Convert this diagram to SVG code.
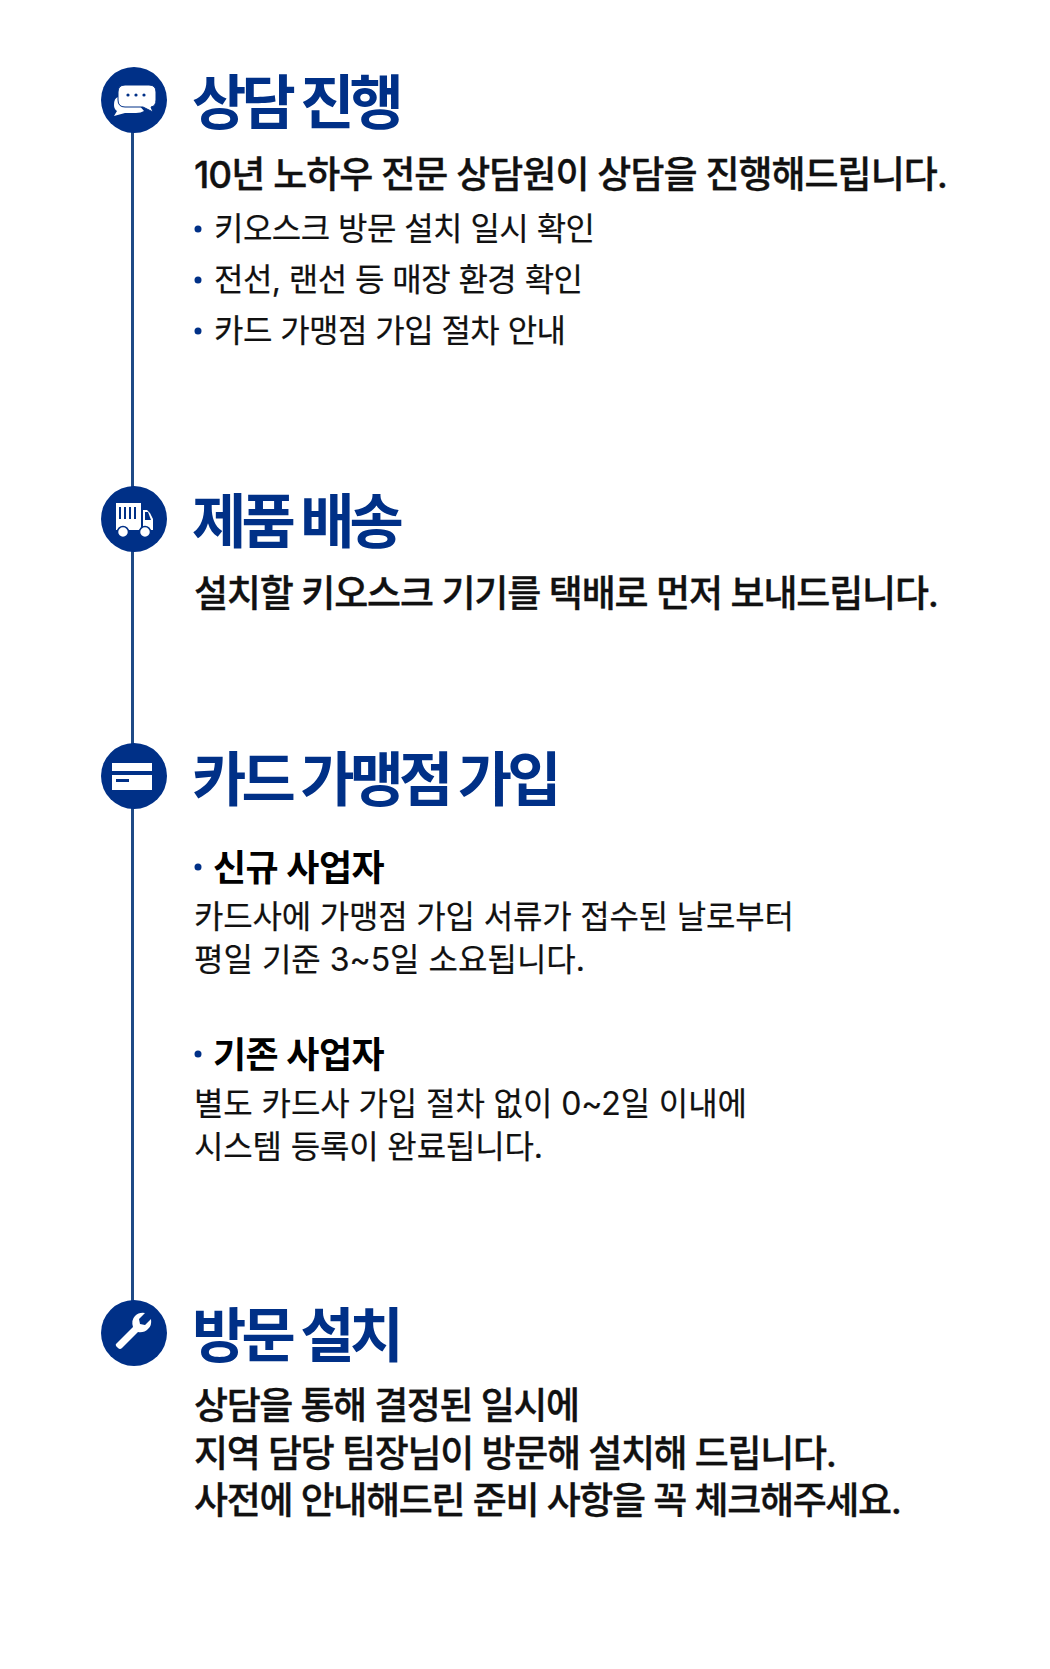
<svg xmlns="http://www.w3.org/2000/svg" width="1050" height="1669" viewBox="0 0 1050 1669">
<style>
text{font-family:Inter,"Noto Sans CJK KR","Noto Sans",sans-serif;fill:#000}
.t{font-size:59px;font-weight:700;fill:#003087;letter-spacing:-4.8px}
.b{font-size:37px;font-weight:500;fill:#111;stroke:#111;stroke-width:.35px}
.l{font-size:32px;font-weight:400;fill:#111;stroke:#111;stroke-width:.2px}
.h{font-size:36px;font-weight:700;letter-spacing:-.5px}
.c{fill:#003087}
.i{fill:#fff}
</style>
<rect width="1050" height="1669" fill="#fff"/>
<g id="connectors"><line x1="132.500" y1="100" x2="132.500" y2="1333" stroke="#1f4a86" stroke-width="3"/></g>
<g id="node-1">
<circle class="c" cx="134" cy="100" r="33"/>
<path class="i" d="M118 97h14l12 14q-3 2-8 2h-11l-11 3 3-5q-3-2-3-6 0-7 4-8z"/>
<path class="i" d="M125 85h24q7 0 7 7v8q0 6-5 7l2 5-10-5h-18q-7 0-7-7v-8q0-7 7-7z" stroke="#003087" stroke-width="1"/>
<circle class="c" cx="128" cy="95" r="1.600"/><circle class="c" cx="136" cy="95" r="1.600"/><circle class="c" cx="144" cy="95" r="1.600"/>
<text class="t" x="192" y="124">상담 진행</text>
<text class="b" x="194" y="188" textLength="754">10년 노하우 전문 상담원이 상담을 진행해드립니다.</text>
<circle class="c" cx="198" cy="229" r="3.500"/><text class="l" x="214" y="240" textLength="381">키오스크 방문 설치 일시 확인</text>
<circle class="c" cx="198" cy="280" r="3.500"/><text class="l" x="214" y="291" textLength="369">전선, 랜선 등 매장 환경 확인</text>
<circle class="c" cx="198" cy="331" r="3.500"/><text class="l" x="214" y="342" textLength="352">카드 가맹점 가입 절차 안내</text>
</g>
<g id="node-2">
<circle class="c" cx="134" cy="519" r="33"/>
<path class="i" d="M116 503h25v27h-25zM143 510h4l3 3 3 6v11h-10z"/>
<g fill="#003087"><rect x="119" y="507" width="2" height="12"/><rect x="124" y="507" width="2" height="12"/><rect x="129" y="507" width="2" height="12"/><rect x="134" y="507" width="2" height="12"/><path d="M145 512h3l3 8h-6z"/></g>
<circle class="i" cx="123" cy="532" r="5.500" stroke="#003087" stroke-width="1.500"/><circle class="i" cx="145" cy="532" r="5.500" stroke="#003087" stroke-width="1.500"/>
<text class="t" x="192" y="543">제품 배송</text>
<text class="b" x="194" y="607" textLength="745">설치할 키오스크 기기를 택배로 먼저 보내드립니다.</text>
</g>
<g id="node-3">
<circle class="c" cx="134" cy="776" r="33"/>
<rect class="i" x="112" y="763" width="40" height="27"/>
<rect class="c" x="112" y="771" width="40" height="4"/>
<rect class="c" x="116" y="779" width="13" height="3"/>
<text class="t" x="192" y="801">카드 가맹점 가입</text>
<circle class="c" cx="198" cy="867" r="3.500"/><text class="h" x="213" y="881">신규 사업자</text>
<text class="l" x="194" y="928" textLength="600">카드사에 가맹점 가입 서류가 접수된 날로부터</text>
<text class="l" x="194" y="971" textLength="391">평일 기준 3~5일 소요됩니다.</text>
<circle class="c" cx="198" cy="1054" r="3.500"/><text class="h" x="213" y="1068">기존 사업자</text>
<text class="l" x="194" y="1115" textLength="553">별도 카드사 가입 절차 없이 0~2일 이내에</text>
<text class="l" x="194" y="1158" textLength="349">시스템 등록이 완료됩니다.</text>
</g>
<g id="node-4">
<circle class="c" cx="134" cy="1333" r="33"/>
<path class="i" d="M117 1343l16-16q-2-7 2-11 4-4 10-3l-6 6 1 5 5 1 6-6q1 7-3 10-4 4-10 3l-16 16q-2 2-4 0l-2-2q-1-2 1-3z"/>
<text class="t" x="192" y="1357">방문 설치</text>
<text class="b" x="194" y="1419" textLength="386">상담을 통해 결정된 일시에</text>
<text class="b" x="194" y="1467" textLength="643">지역 담당 팀장님이 방문해 설치해 드립니다.</text>
<text class="b" x="194" y="1514" textLength="708">사전에 안내해드린 준비 사항을 꼭 체크해주세요.</text>
</g>
</svg>
